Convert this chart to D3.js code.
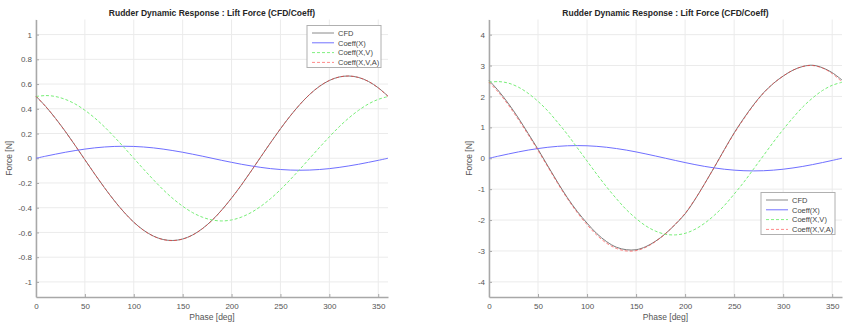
<!DOCTYPE html>
<html>
<head>
<meta charset="utf-8">
<script src="https://cdn.jsdelivr.net/npm/d3@7/dist/d3.min.js"></script>
<style>
  body { margin: 0; background: #fff; }
  svg { display: block; font-family: "Liberation Sans", Arial, sans-serif; }
</style>
</head>
<body>
<div id="chart"></div>
<script>
// phase samples every 10 deg
var phase = d3.range(0, 361, 10);
var xTicks = [0, 50, 100, 150, 200, 250, 300, 350];
var seriesNames = ["CFD", "Coeff(X)", "Coeff(X,V)", "Coeff(X,V,A)"];

// left panel (small amplitude)
var leftCFD = [0.502, 0.418, 0.322, 0.217, 0.104, -0.012, -0.127, -0.238, -0.342, -0.436, -0.517, -0.582, -0.629, -0.657, -0.665,
  -0.653, -0.621, -0.570, -0.502, -0.418, -0.322, -0.217, -0.104, 0.012, 0.127, 0.238, 0.342, 0.436, 0.517, 0.582, 0.629, 0.657, 0.665,
  0.653, 0.621, 0.570, 0.502];
var leftX = [0, 0.017, 0.033, 0.0485, 0.062, 0.074, 0.084, 0.091, 0.0955, 0.097, 0.0955, 0.091, 0.084, 0.074, 0.062, 0.0485, 0.033, 0.017, 0,
  -0.017, -0.033, -0.0485, -0.062, -0.074, -0.084, -0.091, -0.0955, -0.097, -0.0955, -0.091, -0.084, -0.074, -0.062, -0.0485, -0.033, -0.017, 0];
var leftXV = [0.499, 0.507, 0.499, 0.476, 0.439, 0.388, 0.326, 0.254, 0.173, 0.088, 0, -0.088, -0.173, -0.254, -0.326, -0.388, -0.439, -0.476,
  -0.499, -0.507, -0.499, -0.476, -0.439, -0.388, -0.326, -0.254, -0.173, -0.088, 0, 0.088, 0.173, 0.254, 0.326, 0.388, 0.439, 0.476, 0.499];
var leftXVA = [0.500, 0.417, 0.321, 0.216, 0.104, -0.012, -0.127, -0.238, -0.342, -0.436, -0.518, -0.583, -0.630, -0.658, -0.666,
  -0.654, -0.622, -0.571, -0.503, -0.419, -0.322, -0.217, -0.104, 0.012, 0.127, 0.238, 0.342, 0.436, 0.517, 0.582, 0.629, 0.657, 0.665,
  0.653, 0.621, 0.569, 0.500];
var leftYTicks = [-1, -0.8, -0.6, -0.4, -0.2, 0, 0.2, 0.4, 0.6, 0.8, 1];

// right panel (large amplitude)
var rightCFD = [2.52, 2.17, 1.76, 1.30, 0.80, 0.29, -0.25, -0.78, -1.28, -1.72, -2.10, -2.44, -2.70, -2.88, -2.96, -2.96, -2.86, -2.68,
  -2.44, -2.14, -1.80, -1.34, -0.82, -0.28, 0.28, 0.82, 1.30, 1.74, 2.12, 2.42, 2.66, 2.85, 2.97, 3.01, 2.93, 2.77, 2.53];
var rightX = [0, 0.071, 0.140, 0.205, 0.264, 0.314, 0.355, 0.385, 0.404, 0.41, 0.404, 0.385, 0.355, 0.314, 0.264, 0.205, 0.140, 0.071, 0,
  -0.071, -0.140, -0.205, -0.264, -0.314, -0.355, -0.385, -0.404, -0.41, -0.404, -0.385, -0.355, -0.314, -0.264, -0.205, -0.140, -0.071, 0];
var rightXV = [2.46, 2.48, 2.43, 2.30, 2.10, 1.84, 1.53, 1.16, 0.77, 0.34, -0.09, -0.52, -0.93, -1.31, -1.66, -1.95, -2.19, -2.36, -2.46,
  -2.48, -2.43, -2.30, -2.10, -1.84, -1.53, -1.16, -0.77, -0.34, 0.09, 0.52, 0.93, 1.31, 1.66, 1.95, 2.19, 2.36, 2.46];
var rightXVA = [2.46, 2.12, 1.71, 1.25, 0.76, 0.25, -0.28, -0.81, -1.31, -1.76, -2.15, -2.49, -2.75, -2.92, -3.00, -2.99, -2.88, -2.69,
  -2.44, -2.13, -1.78, -1.33, -0.82, -0.28, 0.27, 0.80, 1.28, 1.72, 2.11, 2.42, 2.66, 2.85, 2.97, 3.00, 2.92, 2.74, 2.47];
var rightYTicks = [-4, -3, -2, -1, 0, 1, 2, 3, 4];

// legend swatches use the plain colour, curves are drawn semi-transparent
var styles = [
  { color: "#7a7a7a", legend: "#8a8a8a", dash: null, opacity: 1 },
  { color: "#6f6fff", legend: "#7373ff", dash: null, opacity: 1 },
  { color: "#77ee77", legend: "#80f080", dash: "3,2", opacity: 1 },
  { color: "#ff3030", legend: "#ff8a8a", dash: "3,2", opacity: 0.6 }
];

var svg = d3.select("#chart").append("svg")
  .attr("width", 848)
  .attr("height", 329);

function drawPanel(p) {
  var x = d3.scaleLinear().domain([0, 360]).range([p.left, p.right]);
  var y = d3.scaleLinear().domain(p.yDomain).range([297, 19.5]);
  var g = svg.append("g");

  // grid
  g.append("g").selectAll("line").data(xTicks).enter().append("line")
    .attr("x1", d => x(d)).attr("x2", d => x(d))
    .attr("y1", 19.5).attr("y2", 297)
    .attr("stroke", "#ebebeb").attr("stroke-width", 1);
  g.append("g").selectAll("line").data(p.yTicks).enter().append("line")
    .attr("x1", p.left).attr("x2", p.right)
    .attr("y1", d => y(d)).attr("y2", d => y(d))
    .attr("stroke", "#ebebeb").attr("stroke-width", 1);

  // axes
  var xAxis = g.append("g")
    .attr("transform", "translate(0,297)")
    .call(d3.axisBottom(x).tickValues(xTicks).tickSizeInner(-3).tickSizeOuter(0).tickPadding(6));
  var yAxis = g.append("g")
    .attr("transform", "translate(" + p.left + ",0)")
    .call(d3.axisLeft(y).tickValues(p.yTicks).tickSizeInner(-3).tickSizeOuter(0).tickPadding(4)
      .tickFormat(d => String(+d.toFixed(1))));
  [xAxis, yAxis].forEach(function(a) {
    a.select(".domain").attr("stroke", "#a8a8a8").attr("stroke-width", 1.5);
    a.selectAll(".tick line").attr("stroke", "#a8a8a8");
    a.selectAll(".tick text").attr("fill", "#555").style("font-size", "8px")
      .style("font-family", "Liberation Sans, Arial, sans-serif");
  });

  // curves
  var line = d3.line()
    .x(function(d, i) { return x(phase[i]); })
    .y(function(d) { return y(d); })
    .curve(d3.curveCatmullRom);
  p.series.forEach(function(s, k) {
    g.append("path")
      .datum(s)
      .attr("d", line)
      .attr("fill", "none")
      .attr("stroke", styles[k].color)
      .attr("stroke-opacity", styles[k].opacity)
      .attr("stroke-width", 1)
      .attr("stroke-dasharray", styles[k].dash);
  });

  // title and labels
  g.append("text")
    .attr("x", (p.left + p.right) / 2).attr("y", 16)
    .attr("text-anchor", "middle")
    .style("font-size", "8.5px").style("font-weight", "bold").attr("fill", "#262626")
    .text("Rudder Dynamic Response : Lift Force (CFD/Coeff)");
  g.append("text")
    .attr("x", (p.left + p.right) / 2).attr("y", 320)
    .attr("text-anchor", "middle")
    .style("font-size", "8.5px").attr("fill", "#555")
    .text("Phase [deg]");
  g.append("text")
    .attr("transform", "translate(" + p.ylabelX + "," + y(0) + ") rotate(-90)")
    .attr("text-anchor", "middle")
    .style("font-size", "8.5px").attr("fill", "#555")
    .text("Force [N]");

  // legend
  var lg = g.append("g").attr("transform", "translate(" + p.legend[0] + "," + p.legend[1] + ")");
  lg.append("rect")
    .attr("width", 74).attr("height", 42)
    .attr("fill", "#fff").attr("stroke", "#b0b0b0").attr("stroke-width", 1);
  seriesNames.forEach(function(name, k) {
    var yy = 7.5 + k * 9.8;
    lg.append("line")
      .attr("x1", 5).attr("x2", 27).attr("y1", yy).attr("y2", yy)
      .attr("stroke", styles[k].legend)
      .attr("stroke-width", 1)
      .attr("stroke-dasharray", styles[k].dash);
    lg.append("text")
      .attr("x", 31).attr("y", yy + 2.7)
      .style("font-size", "7.5px").attr("fill", "#444")
      .text(name);
  });
}

drawPanel({
  left: 36, right: 388, yDomain: [-1.122, 1.122], yTicks: leftYTicks,
  series: [leftCFD, leftX, leftXV, leftXVA], legend: [307, 25.5], ylabelX: 12
});
drawPanel({
  left: 489, right: 842, yDomain: [-4.49, 4.49], yTicks: rightYTicks,
  series: [rightCFD, rightX, rightXV, rightXVA], legend: [761, 192.5], ylabelX: 472
});
</script>
</body>
</html>
